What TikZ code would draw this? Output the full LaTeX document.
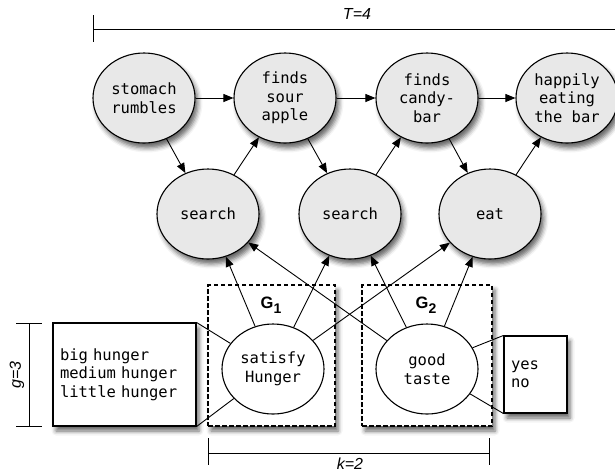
\documentclass[tikz,border=0pt]{standalone}
\usepackage{fontspec}
\setmainfont{Liberation Sans}
\setmonofont{DejaVu Sans Mono}
\usetikzlibrary{shapes.geometric,arrows.meta,shadows.blur}
\begin{document}
\begin{tikzpicture}[x=1pt,y=-1pt,
  mono/.style={font=\ttfamily\fontsize{15.5pt}{18.5pt}\selectfont},
  shad/.style={blur shadow={shadow xshift=3pt,shadow yshift=-5pt,shadow blur radius=4.5pt,shadow opacity=60}},
  ev/.style={ellipse,draw,line width=1.1pt,fill=black!9,minimum width=102pt,minimum height=90pt,inner sep=0pt,align=center,mono,shad},
  gen/.style={ellipse,draw,line width=1.1pt,fill=white,minimum width=102pt,minimum height=90pt,inner sep=0pt,align=center,mono},
  grp/.style={rectangle,draw,line width=1.1pt,dash pattern=on 4.5pt off 2.5pt,fill=white,shad},
  vals/.style={rectangle,draw,line width=1.1pt,fill=white,align=left,inner sep=7pt,mono,shad},
  arr/.style={-{Triangle[length=10pt,width=8pt]},line width=0.9pt},
  lnk/.style={line width=0.9pt},
  dim/.style={line width=0.9pt},
  dimlab/.style={font=\itshape\fontsize{16pt}{18pt}\selectfont},
  glab/.style={font=\bfseries\fontsize{16.5pt}{18pt}\selectfont}
]
\useasboundingbox (0,0) rectangle (615,475);

% dimension lines
\coordinate (t0) at (93,29);
\coordinate (t1) at (625,29);
\coordinate (t0a) at (93,15);
\coordinate (t0b) at (93,42);
\draw[dim] (t0a) -- (t0b);
\draw[dim] (t0) -- (t1);
\node[dimlab] (tlab) at (357,14) {T=4};

\coordinate (k0) at (208,453);
\coordinate (k1) at (489,453);
\coordinate (k0a) at (208,438);
\coordinate (k0b) at (208,465);
\coordinate (k1a) at (489,438);
\coordinate (k1b) at (489,465);
\draw[dim] (k0a) -- (k0b);
\draw[dim] (k1a) -- (k1b);
\draw[dim] (k0) -- (k1);
\node[dimlab] (klab) at (350,464) {k=2};

\coordinate (g0) at (29,323);
\coordinate (g1c) at (29,426);
\coordinate (g0a) at (16,323);
\coordinate (g0b) at (42,323);
\coordinate (g1a) at (16,426);
\coordinate (g1b) at (42,426);
\draw[dim] (g0a) -- (g0b);
\draw[dim] (g1a) -- (g1b);
\draw[dim] (g0) -- (g1c);
\node[dimlab,rotate=90] (glab) at (17,375) {g=3};

% group boxes
\node[grp,minimum width=127pt,minimum height=141pt] (G1) at (271.5,355.5) {};
\node[grp,minimum width=130pt,minimum height=141pt] (G2) at (427,355.5) {};
\node[glab] (G1lab) at (271,305) {G\raisebox{-5pt}{\fontsize{14pt}{14pt}\selectfont 1}};
\node[glab] (G2lab) at (426,305) {G\raisebox{-5pt}{\fontsize{14pt}{14pt}\selectfont 2}};

% value boxes
\node[vals,text width=129pt,minimum height=103pt] (hv) at (124.5,374.5) {big hunger\\medium hunger\\little hunger};
\node[vals,text width=49pt,minimum height=77pt] (tv) at (535.5,374.5) {yes\\no};

% event nodes
\node[ev] (e1) at (144,98) {stomach\\rumbles};
\node[ev] (e2) at (285,98) {finds\\sour\\apple};
\node[ev] (e3) at (427,98) {finds\\candy-\\bar};
\node[ev] (e4) at (567,98) {happily\\eating\\the bar};

\node[ev] (a1) at (208,214) {search};
\node[ev] (a2) at (350,214) {search};
\node[ev] (a3) at (490,214) {eat};

\node[gen] (s) at (273,369) {satisfy\\Hunger};
\node[gen] (t) at (427,369) {good\\taste};

% links value boxes
\draw[lnk] (hv.north east) -- (s.149);
\draw[lnk] (hv.south east) -- (s.217);
\draw[lnk] (tv.north west) -- (t.25);
\draw[lnk] (tv.south west) -- (t.-30);

% arrows
\draw[arr] (e1) -- (e2);
\draw[arr] (e2) -- (e3);
\draw[arr] (e3) -- (e4);
\draw[arr] (e1) -- (a1);
\draw[arr] (a1) -- (e2);
\draw[arr] (e2) -- (a2);
\draw[arr] (a2) -- (e3);
\draw[arr] (e3) -- (a3);
\draw[arr] (a3) -- (e4);

\draw[arr] (s) -- (a1);
\draw[arr] (s) -- (a2);
\draw[arr] (s) -- (a3);
\draw[arr] (t) -- (a1);
\draw[arr] (t) -- (a2);
\draw[arr] (t) -- (a3);
\end{tikzpicture}
\end{document}
